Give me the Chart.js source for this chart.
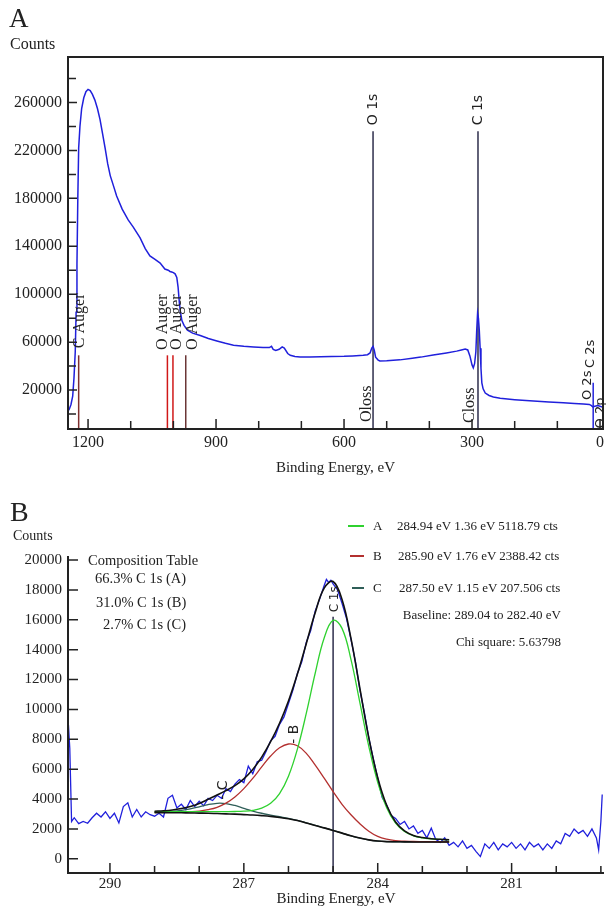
<!DOCTYPE html>
<html>
<head>
<meta charset="utf-8">
<script src="https://cdn.jsdelivr.net/npm/chart.js@4.4.0/dist/chart.umd.min.js"></script>
<style>
  body { margin: 0; background: #fff; }
  #wrap { position: relative; width: 606px; height: 910px; color: #222;
          font-family: 'Liberation Serif', 'Times New Roman', serif; }
  canvas { position: absolute; left: 0; }
  .txt { position: absolute; white-space: nowrap; line-height: 1; }
  .swatch { position: absolute; height: 2px; }
</style>
</head>
<body>
<div id="wrap">
  <canvas id="survey" width="606" height="480" style="top:0"></canvas>
  <canvas id="carbon" width="606" height="430" style="top:480px"></canvas>
</div>
<script>
// ---- survey scan (A) ----
const surveyEnergy = [1247, 1244, 1240, 1236, 1233, 1230, 1228, 1226, 1224, 1222,
  1219, 1215, 1210, 1205, 1200, 1195, 1190, 1184, 1178, 1172,
  1166, 1160, 1154, 1148, 1140, 1133, 1120, 1106, 1094, 1078,
  1066, 1055, 1043, 1031, 1020, 1012, 1008, 1004, 1000, 996,
  992, 989, 986, 983, 980, 975, 967, 955, 937, 918,
  898, 878, 859, 835, 812, 790, 775, 770, 766, 760,
  752, 745, 740, 732, 726, 715, 703, 680, 655, 630,
  600, 580, 555, 545, 539, 535, 532, 529, 526, 520,
  516, 500, 469, 440, 420, 391, 360, 336, 325, 316,
  310, 305, 300, 297, 294, 291, 289, 287, 285, 283,
  281, 279, 277, 274, 269, 260, 250, 234, 200, 156,
  120, 86, 60, 39, 25, 20, 17, 12, 5, 0,
  -4, -7];
const surveyCounts = [2500, 4000, 8000, 15000, 30000, 52000, 85000, 125000, 180000, 222000,
  240000, 255000, 264000, 269000, 271000, 270000, 267000, 262000, 255000, 246000,
  234000, 222000, 209000, 199000, 190000, 182000, 171000, 162000, 156000, 147000,
  138000, 132000, 129000, 126000, 121000, 120000, 119000, 118500, 118000, 117000,
  114000, 106000, 93000, 84000, 78000, 74000, 70000, 67500, 65500, 63000,
  61000, 59000, 57500, 56500, 56000, 55500, 55500, 56500, 54000, 53000,
  54000, 56000, 55000, 50500, 49000, 48000, 47500, 47500, 47800, 48000,
  48200, 48500, 49000, 49500, 51000, 55000, 56500, 53000, 47500, 45000,
  44300, 44500, 45200, 46500, 47500, 49200, 51000, 52500, 53500, 54300,
  53500, 48500, 41000, 38500, 42000, 52000, 70000, 84000, 80000, 70000,
  55000, 38000, 26000, 21000, 17500, 15500, 14200, 13100, 12000, 10800,
  10000, 9400, 8800, 8300, 8000, 7000, 6000, 6500, 7000, 6500,
  6000, 5500];

// identified lines: position (eV) and height of the marker
const lineNames  = ['C Auger', 'O Auger', 'O Auger', 'O Auger', 'O 1s', 'C 1s', 'O 2s'];
const lineEnergy = [1222, 1014, 1001, 971, 532, 286, 16];
const lineTop    = [49000, 49000, 49000, 49000, 236000, 236000, 26000];
const lineColors = ['#7e2f2f', '#d01818', '#d01818', '#6b3636', '#2e2e4c', '#2e2e4c', '#2424dc'];

const surveyTicksX = [0, 100, 200, 300, 400, 500, 600, 700, 800, 900, 1000, 1100, 1200];
const surveyTicksY = [0, 20000, 40000, 60000, 80000, 100000, 120000, 140000,
  160000, 180000, 200000, 220000, 240000, 260000, 280000];
const surveyMin = -12500, surveyMax = 298000;

// ---- C 1s region (B) ----
const rawEnergy = [290.94, 290.93, 290.90, 290.86, 290.8, 290.7, 290.6, 290.5, 290.4, 290.3,
  290.2, 290.1, 290.0, 289.9, 289.8, 289.7, 289.6, 289.5, 289.4, 289.3,
  289.2, 289.1, 289.0, 288.9, 288.8, 288.7, 288.6, 288.5, 288.4, 288.3,
  288.2, 288.1, 288.0, 287.9, 287.8, 287.7, 287.6, 287.5, 287.4, 287.3,
  287.2, 287.1, 287.0, 286.9, 286.8, 286.7, 286.6, 286.5, 286.4, 286.3,
  286.2, 286.1, 286.0, 285.9, 285.8, 285.7, 285.6, 285.5, 285.4, 285.3,
  285.2, 285.15, 285.1, 285.05, 285.0, 284.9, 284.8, 284.7, 284.6, 284.5,
  284.4, 284.3, 284.2, 284.1, 284.0, 283.9, 283.8, 283.7, 283.6, 283.5,
  283.4, 283.3, 283.2, 283.1, 283.0, 282.9, 282.8, 282.7, 282.6, 282.5,
  282.4, 282.3, 282.2, 282.1, 282.0, 281.9, 281.8, 281.7, 281.6, 281.5,
  281.4, 281.3, 281.2, 281.1, 281.0, 280.9, 280.8, 280.7, 280.6, 280.5,
  280.4, 280.3, 280.2, 280.1, 280.0, 279.9, 279.8, 279.7, 279.6, 279.5,
  279.4, 279.3, 279.2, 279.1, 279.05, 279.0, 278.97];
const rawCounts = [7600, 8950, 7400, 2500, 2750, 2350, 2500, 2380, 2750, 3050,
  2800, 3150, 2700, 3050, 2400, 3500, 3750, 2800, 3300, 2800,
  3150, 2950, 2850, 3050, 2800, 4050, 4250, 3400, 3650, 3300,
  3900, 3500, 3850, 3550, 4050, 3900, 4250, 4050, 4700, 4500,
  5000, 5300, 5100, 6200, 5700, 6500, 6600, 7200, 7900, 8200,
  9000, 9500, 10400, 11300, 12400, 13200, 14500, 15300, 16600, 17400,
  18300, 18700, 18500, 18650, 18400, 18000, 17100, 16100, 14700, 13200,
  11300, 9800, 8100, 6700, 5400, 4100, 3600, 2900, 2700, 2300,
  2500, 2000, 2200, 1700, 1900, 1400, 2050, 1300, 1100, 1400,
  900, 1100, 800, 1200, 700, 900, 500, 150, 1000, 700,
  1100, 600, 1000, 800, 1100, 700, 1000, 600, 1100, 800,
  1000, 600, 1000, 700, 1200, 1000, 1700, 1500, 2000, 1700,
  1900, 1500, 2000, 1400, 600, 2500, 4300];

// fitted components, envelope and Shirley baseline (289.04 -> 282.40 eV)
const fitEnergy = [289.0, 288.8, 288.6, 288.4, 288.2, 288.0, 287.8, 287.6, 287.4, 287.2,
  287.0, 286.8, 286.6, 286.4, 286.2, 286.0, 285.8, 285.6, 285.4, 285.2,
  285.0, 284.8, 284.6, 284.4, 284.2, 284.0, 283.8, 283.6, 283.4, 283.2,
  283.0, 282.8, 282.6, 282.4];
const baseline = [3090, 3090, 3085, 3080, 3070, 3060, 3050, 3030, 3010, 2990,
  2960, 2930, 2890, 2840, 2770, 2680, 2560, 2400, 2230, 2070,
  1900, 1720, 1540, 1390, 1270, 1190, 1150, 1140, 1135, 1130,
  1130, 1130, 1130, 1130];
const compA = [3148, 3154, 3156, 3159, 3159, 3160, 3163, 3160, 3161, 3167,
  3188, 3248, 3389, 3711, 4361, 5529, 7342, 9747, 12438, 14782,
  15958, 15426, 13344, 10454, 7530, 5115, 3421, 2387, 1825, 1540,
  1403, 1332, 1295, 1271];
const compB = [3110, 3110, 3110, 3125, 3145, 3190, 3290, 3450, 3725, 4140,
  4700, 5385, 6150, 6880, 7430, 7685, 7565, 7060, 6270, 5400,
  4500, 3650, 2950, 2350, 1850, 1500, 1310, 1215, 1180, 1157,
  1150, 1145, 1140, 1135];
const compC = [3110, 3130, 3170, 3240, 3340, 3480, 3630, 3716, 3696, 3570,
  3380, 3200, 3050, 2930, 2820, 2710, 2580, 2412, 2238, 2075,
  1904, 1723, 1542, 1391, 1271, 1190, 1150, 1140, 1135, 1130,
  1130, 1130, 1130, 1130];
const envelope = [3188, 3214, 3266, 3364, 3504, 3710, 3983, 4266, 4562, 4897,
  5348, 5973, 6809, 7841, 9071, 10564, 12367, 14419, 16486, 18117,
  18562, 17356, 14754, 11414, 8110, 5425, 3581, 2462, 1870, 1567,
  1423, 1347, 1305, 1276];

const compNames = ['A', 'B', 'C'];
const compPos   = ['284.94', '285.90', '287.50'];
const compFwhm  = ['1.36', '1.76', '1.15'];
const compArea  = ['5118.79', '2388.42', '207.506'];
const compShare = ['66.3', '31.0', '2.7'];
const compColors = ['#2fd12f', '#b3302f', '#2f5e58'];

const c1sEnergy = 285.0, c1sTop = 16200;
const carbonTicksX = [279, 280, 281, 282, 283, 284, 285, 286, 287, 288, 289, 290];
const carbonTicksY = [0, 2000, 4000, 6000, 8000, 10000, 12000, 14000, 16000, 18000, 20000];
const carbonMin = -950, carbonMax = 20270;

const serif = "'Liberation Serif', 'Times New Roman', serif";
const sans = "'DejaVu Sans', sans-serif";

function pairs(xs, ys) {
  return xs.map((x, i) => ({ x: x, y: ys[i] }));
}
function useTicks(values) {
  return scale => { scale.ticks = values.map(v => ({ value: v })); };
}

// frame + inward tick marks
function axisLayer(o) {
  return {
    id: 'axisLayer',
    afterDraw(chart) {
      const { ctx, chartArea: a, scales: { x, y } } = chart;
      ctx.save();
      ctx.strokeStyle = '#222';
      ctx.lineWidth = 2;
      ctx.beginPath();
      if (o.box) {
        ctx.rect(a.left, a.top, a.right - a.left, a.bottom - a.top);
      } else {
        ctx.moveTo(a.left, a.top);
        ctx.lineTo(a.left, a.bottom);
        ctx.lineTo(a.right, a.bottom);
      }
      ctx.stroke();
      ctx.lineWidth = 1.5;
      ctx.beginPath();
      x.ticks.forEach(t => {
        const px = x.getPixelForValue(t.value);
        const len = t.label ? o.xMajor : o.xMinor;
        ctx.moveTo(px, a.bottom);
        ctx.lineTo(px, a.bottom - len);
      });
      y.ticks.forEach(t => {
        const py = y.getPixelForValue(t.value);
        const len = t.label ? o.yMajor : o.yMinor;
        ctx.moveTo(a.left, py);
        ctx.lineTo(a.left + len, py);
      });
      ctx.stroke();
      ctx.restore();
    }
  };
}

// rotated peak names, written upward from (at, from)
function tagLayer(items) {
  return {
    id: 'tagLayer',
    afterDatasetsDraw(chart) {
      const { ctx, scales: { x, y } } = chart;
      ctx.save();
      ctx.fillStyle = '#222';
      items.forEach(t => {
        ctx.save();
        ctx.translate(x.getPixelForValue(t.at), y.getPixelForValue(t.from));
        ctx.rotate(-Math.PI / 2);
        ctx.font = t.font;
        ctx.textAlign = 'left';
        ctx.textBaseline = 'middle';
        ctx.fillText(t.text, 0, 0);
        ctx.restore();
      });
      ctx.restore();
    }
  };
}

/* Chart A */
const surveySets = [{
  data: pairs(surveyEnergy, surveyCounts),
  borderColor: '#2020dc', borderWidth: 1.5, showLine: true, pointRadius: 0, order: 0
}];
lineEnergy.forEach((e, i) => {
  surveySets.push({
    data: [{ x: e, y: surveyMin }, { x: e, y: lineTop[i] }],
    borderColor: lineColors[i], borderWidth: 1.5, showLine: true, pointRadius: 0, order: 1
  });
});

const surveyTags = [
  { text: lineNames[0], at: 1219, from: 55000, font: '16px ' + serif },
  { text: lineNames[1], at: 1025, from: 53500, font: '16px ' + serif },
  { text: lineNames[2], at: 992, from: 53500, font: '16px ' + serif },
  { text: lineNames[3], at: 955, from: 53500, font: '16px ' + serif },
  { text: lineNames[4], at: 532, from: 241000, font: '14px ' + sans },
  { text: lineNames[5], at: 286, from: 241000, font: '14px ' + sans },
  { text: 'Oloss', at: 546, from: -6700, font: '16px ' + serif },
  { text: 'Closs', at: 305, from: -7500, font: '16px ' + serif },
  { text: 'C 2s', at: 23, from: 38400, font: '13px ' + sans },
  { text: lineNames[6], at: 29, from: 11700, font: '13px ' + sans },
  { text: 'O 2p', at: -2.5, from: -12000, font: '13px ' + sans }
];

new Chart(document.getElementById('survey'), {
  type: 'scatter',
  data: { datasets: surveySets },
  options: {
    responsive: false,
    animation: false,
    layout: { padding: { top: 57, right: 3, left: 0, bottom: 0 } },
    plugins: { legend: { display: false }, tooltip: { enabled: false } },
    scales: {
      x: {
        type: 'linear', reverse: true, min: -7, max: 1247,
        grid: { display: false, drawTicks: false }, border: { display: false },
        afterBuildTicks: useTicks(surveyTicksX),
        ticks: {
          autoSkip: false, maxRotation: 0,
          padding: 4, color: '#222', font: { family: serif, size: 16 },
          callback: v => (v % 300 === 0 ? String(v) : '')
        },
        title: { display: true, text: 'Binding Energy, eV', color: '#222',
                 font: { family: serif, size: 15 }, padding: { top: 0, bottom: 3 } },
        afterFit: s => { s.height = 51; }
      },
      y: {
        min: surveyMin, max: surveyMax,
        grid: { display: false, drawTicks: false }, border: { display: false },
        afterBuildTicks: useTicks(surveyTicksY),
        ticks: {
          autoSkip: false,
          padding: 6, color: '#222', font: { family: serif, size: 16 },
          callback: v => ((v / 20000) % 2 === 1 ? String(v) : '')
        },
        afterFit: s => { s.width = 68; }
      }
    }
  },
  plugins: [axisLayer({ box: true, xMajor: 10, xMinor: 8, yMajor: 9, yMinor: 8 }), tagLayer(surveyTags)]
});

/* Chart B */
const carbonSets = [
  { data: pairs(fitEnergy, envelope), borderColor: '#111', borderWidth: 1.6, order: 0, tension: 0.4 },
  { data: pairs(fitEnergy, baseline), borderColor: '#111', borderWidth: 1.6, order: 1, tension: 0.4 },
  { data: pairs(fitEnergy, compA), borderColor: compColors[0], borderWidth: 1.3, order: 2, tension: 0.4 },
  { data: pairs(fitEnergy, compB), borderColor: compColors[1], borderWidth: 1.3, order: 3, tension: 0.4 },
  { data: pairs(fitEnergy, compC), borderColor: compColors[2], borderWidth: 1.3, order: 4, tension: 0.4 },
  { data: [{ x: c1sEnergy, y: carbonMin }, { x: c1sEnergy, y: c1sTop }], borderColor: '#2e2e4c', borderWidth: 1.5, order: 5 },
  { data: pairs(rawEnergy, rawCounts), borderColor: '#2020dc', borderWidth: 1.3, order: 6 }
];
carbonSets.forEach(d => { d.showLine = true; d.pointRadius = 0; });

const carbonTags = [
  { text: 'C 1s', at: 284.97, from: 16500, font: '12px ' + sans },
  { text: '- ' + compNames[1], at: 285.87, from: 7700, font: '14px ' + sans },
  { text: '- ' + compNames[2], at: 287.47, from: 3950, font: '14px ' + sans }
];

new Chart(document.getElementById('carbon'), {
  type: 'scatter',
  data: { datasets: carbonSets },
  options: {
    responsive: false,
    animation: false,
    layout: { padding: { top: 76, right: 2, left: 0, bottom: 0 } },
    plugins: { legend: { display: false }, tooltip: { enabled: false } },
    scales: {
      x: {
        type: 'linear', reverse: true, min: 278.93, max: 290.94,
        grid: { display: false, drawTicks: false }, border: { display: false },
        afterBuildTicks: useTicks(carbonTicksX),
        ticks: {
          autoSkip: false, maxRotation: 0,
          padding: 2, color: '#222', font: { family: serif, size: 15 },
          callback: v => ((290 - v) % 3 === 0 ? String(v) : '')
        },
        title: { display: true, text: 'Binding Energy, eV', color: '#222',
                 font: { family: serif, size: 15 }, padding: { top: 0, bottom: 2 } },
        afterFit: s => { s.height = 37; }
      },
      y: {
        min: carbonMin, max: carbonMax,
        grid: { display: false, drawTicks: false }, border: { display: false },
        afterBuildTicks: useTicks(carbonTicksY),
        ticks: {
          autoSkip: false,
          padding: 6, color: '#222', font: { family: serif, size: 15 },
          callback: v => String(v)
        },
        afterFit: s => { s.width = 68; }
      }
    }
  },
  plugins: [axisLayer({ box: false, xMajor: 10, xMinor: 7, yMajor: 10, yMinor: 10 }), tagLayer(carbonTags)]
});

// panel letters, axis names, composition table and component legend
const wrap = document.getElementById('wrap');
function addText(text, css) {
  const d = document.createElement('div');
  d.className = 'txt';
  d.textContent = text;
  Object.assign(d.style, css);
  wrap.appendChild(d);
  return d;
}

addText('A', { left: '9px', top: '5px', fontSize: '27px' });
addText('Counts', { left: '10px', top: '35.5px', fontSize: '16px' });
addText('B', { left: '10px', top: '498px', fontSize: '28px' });
addText('Counts', { left: '13px', top: '529px', fontSize: '14px' });

addText('Composition Table', { left: '88px', top: '552.5px', fontSize: '14.5px' });
const shareLeft = [95, 96, 103];
const shareTop = [570.5, 594.5, 616.5];
compNames.forEach((n, i) => {
  addText(compShare[i] + '% C 1s (' + n + ')', { left: shareLeft[i] + 'px', top: shareTop[i] + 'px', fontSize: '14.5px' });
});

const rowY = [526, 556, 588];
const swatchX = [348, 350, 352];
const valueX = [397, 398, 399];
compNames.forEach((n, i) => {
  const s = document.createElement('div');
  s.className = 'swatch';
  Object.assign(s.style, { left: swatchX[i] + 'px', top: (rowY[i] - 1) + 'px',
                           width: (364 - swatchX[i]) + 'px', background: compColors[i] });
  wrap.appendChild(s);
  addText(n, { left: '373px', top: (rowY[i] - 6.6) + 'px', fontSize: '13px' });
  addText(compPos[i] + ' eV ' + compFwhm[i] + ' eV ' + compArea[i] + ' cts',
          { left: valueX[i] + 'px', top: (rowY[i] - 6.6) + 'px', fontSize: '13px' });
});
addText('Baseline: 289.04 to 282.40 eV', { right: '45px', top: '608.4px', fontSize: '13px' });
addText('Chi square: 5.63798', { right: '45px', top: '635.4px', fontSize: '13px' });
</script>
</body>
</html>
